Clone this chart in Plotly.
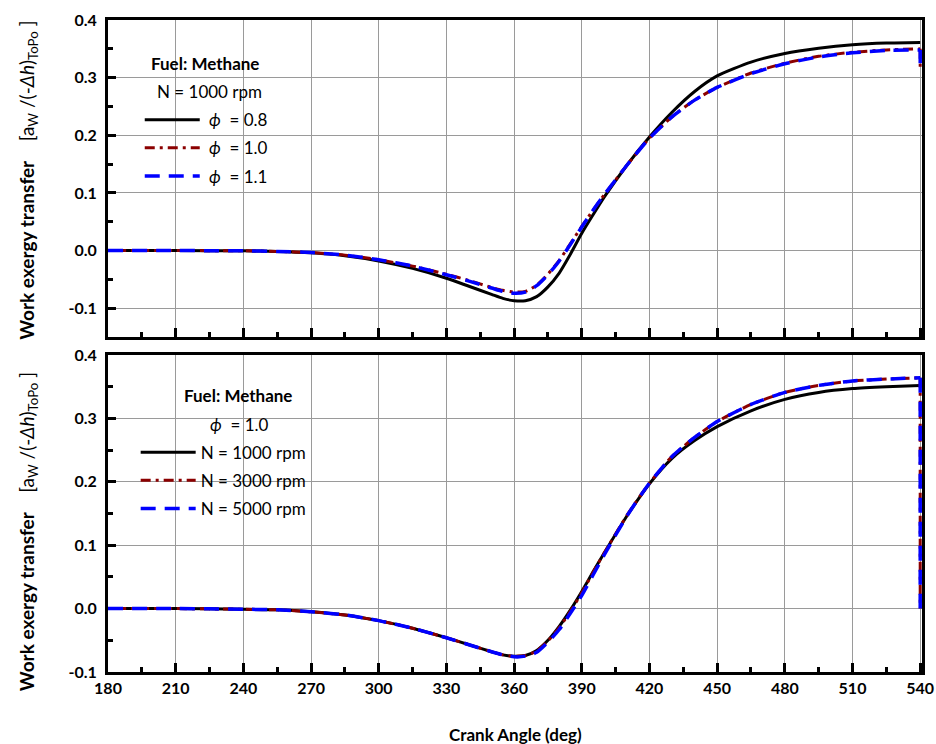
import plotly.graph_objects as go

# Crank angle grid (deg)
angle = [180, 210, 240, 255, 270, 285, 300, 315, 330, 340, 350, 355, 360, 365,
         370, 375, 380, 385, 390, 395, 400, 410, 420, 430, 440, 450, 465, 480,
         495, 510, 525, 540]

# Upper panel: methane, N = 1000 rpm, varying equivalence ratio
phi_08 = [0, 0, -0.0005, -0.0015, -0.004, -0.009, -0.018, -0.031, -0.048, -0.062,
          -0.076, -0.083, -0.087, -0.087, -0.080, -0.063, -0.039, -0.006, 0.030,
          0.062, 0.093, 0.148, 0.197, 0.240, 0.276, 0.303, 0.327, 0.342, 0.351,
          0.357, 0.360, 0.361]
phi_10 = [0, 0, -0.0005, -0.0015, -0.0035, -0.008, -0.016, -0.027, -0.041, -0.052,
          -0.064, -0.069, -0.072, -0.071, -0.060, -0.041, -0.017, 0.012, 0.042,
          0.070, 0.097, 0.148, 0.195, 0.232, 0.261, 0.283, 0.308, 0.325, 0.337,
          0.344, 0.348, 0.350]
phi_11 = [0, 0, -0.0005, -0.0015, -0.0035, -0.008, -0.016, -0.027, -0.042, -0.053,
          -0.065, -0.071, -0.074, -0.072, -0.061, -0.042, -0.018, 0.011, 0.041,
          0.070, 0.097, 0.148, 0.195, 0.232, 0.261, 0.283, 0.307, 0.324, 0.336,
          0.343, 0.347, 0.348]
# value reached at the end-of-cycle step (540 deg)
phi_10_end = 0.310
phi_11_end = 0.325

# Lower panel: methane, phi = 1.0, varying engine speed
n_1000 = [0, 0, -0.001, -0.002, -0.005, -0.010, -0.019, -0.031, -0.046, -0.057,
          -0.068, -0.073, -0.075, -0.074, -0.066, -0.050, -0.028, -0.002, 0.027,
          0.058, 0.088, 0.146, 0.197, 0.237, 0.265, 0.287, 0.312, 0.330, 0.341,
          0.347, 0.350, 0.352]
n_3000 = [0, 0, -0.001, -0.002, -0.005, -0.010, -0.019, -0.031, -0.046, -0.057,
          -0.068, -0.073, -0.075, -0.074, -0.067, -0.051, -0.030, -0.004, 0.025,
          0.057, 0.088, 0.147, 0.198, 0.240, 0.270, 0.295, 0.322, 0.341, 0.352,
          0.359, 0.362, 0.364]
n_5000 = [0, 0, -0.001, -0.002, -0.005, -0.010, -0.019, -0.031, -0.046, -0.057,
          -0.068, -0.073, -0.076, -0.075, -0.069, -0.053, -0.033, -0.007, 0.021,
          0.053, 0.085, 0.146, 0.198, 0.240, 0.270, 0.295, 0.322, 0.341, 0.352,
          0.359, 0.362, 0.364]
n_3000_end = 0.0
n_5000_end = 0.0

x_ticks = [180, 210, 240, 270, 300, 330, 360, 390, 420, 450, 480, 510, 540]
y_ticks = [-0.1, 0.0, 0.1, 0.2, 0.3, 0.4]
y_ticktext = ["-0.1", "0.0", "0.1", "0.2", "0.3", "0.4"]

FONT = "Lato"
BLACK = "#000000"
RED = "#8B0000"
BLUE = "#0000FF"
SOLID = "solid"
DASHDOT = "10px,5px,3px,5px"
DASH = "15px,9px"

fig = go.Figure()


def add(x, y, name, color, dash, width, xa, ya, legend, end=None):
    line = dict(color=color, dash=dash, width=width)
    fig.add_trace(go.Scatter(
        x=x, y=y, name=name, mode="lines", xaxis=xa, yaxis=ya,
        line=dict(**line, shape="spline", smoothing=0.6),
        legend=legend, legendgroup=name + legend,
    ))
    if end is not None:
        # straight step at the end of the cycle
        fig.add_trace(go.Scatter(
            x=[x[-1], x[-1]], y=[y[-1], end], mode="lines", xaxis=xa, yaxis=ya,
            line=line, showlegend=False, legend=legend,
            legendgroup=name + legend, hoverinfo="skip",
        ))


phi = "<i>ϕ</i>"
add(angle, phi_08, f" {phi}  = 0.8", BLACK, SOLID, 3, "x", "y", "legend")
add(angle, phi_10, f" {phi}  = 1.0", RED, DASHDOT, 3, "x", "y", "legend", phi_10_end)
add(angle, phi_11, f" {phi}  = 1.1", BLUE, DASH, 3.5, "x", "y", "legend", phi_11_end)

add(angle, n_1000, "N = 1000 rpm", BLACK, SOLID, 3, "x2", "y2", "legend2")
add(angle, n_3000, "N = 3000 rpm", RED, DASHDOT, 3, "x2", "y2", "legend2", n_3000_end)
add(angle, n_5000, "N = 5000 rpm", BLUE, DASH, 3.5, "x2", "y2", "legend2", n_5000_end)

GRID = "#9a9a9a"
tickfont = dict(family=FONT, size=16, color=BLACK, weight="bold")

# a hair of padding past 540 keeps the end-of-cycle step visible at the frame
xcommon = dict(range=[180, 540.8], tickvals=x_ticks, ticks="inside", ticklen=9,
               tickwidth=3, tickcolor=BLACK,
               minor=dict(dtick=15, tick0=180, ticks="inside", ticklen=5,
                          tickwidth=3, tickcolor=BLACK, showgrid=False),
               showgrid=True, gridcolor=GRID, gridwidth=1, showline=True,
               linewidth=3, linecolor=BLACK, mirror=True, zeroline=False,
               tickfont=tickfont, automargin=False, layer="below traces")
ycommon = dict(tickvals=y_ticks, ticktext=y_ticktext, ticks="inside", ticklen=8,
               tickwidth=3, tickcolor=BLACK,
               minor=dict(dtick=0.05, tick0=0, ticks="inside", ticklen=5,
                          tickwidth=3, tickcolor=BLACK, showgrid=False),
               showgrid=True, gridcolor=GRID, gridwidth=1, showline=True,
               linewidth=3, linecolor=BLACK, mirror=True, zeroline=False,
               tickfont=tickfont, ticklabelstandoff=5, automargin=False,
               layer="below traces")

top_dom = [0.5138, 1.0]
bot_dom = [0.0, 0.4862]

fig.update_layout(
    width=936, height=744,
    margin=dict(l=108, r=14, t=20, b=72),
    paper_bgcolor="white", plot_bgcolor="white",
    font=dict(family=FONT, color=BLACK),
    xaxis=dict(**xcommon, domain=[0, 1], anchor="y", showticklabels=False),
    yaxis=dict(**ycommon, domain=top_dom, anchor="x", range=[-0.15, 0.4]),
    xaxis2=dict(**xcommon, domain=[0, 1], anchor="y2"),
    yaxis2=dict(**ycommon, domain=bot_dom, anchor="x2", range=[-0.1, 0.4]),
    legend=dict(x=0.039, y=0.874, xanchor="left", yanchor="top",
                bgcolor="rgba(0,0,0,0)", font=dict(family=FONT, size=17),
                itemwidth=55, tracegroupgap=3),
    legend2=dict(x=0.034, y=0.364, xanchor="left", yanchor="top",
                 bgcolor="rgba(0,0,0,0)", font=dict(family=FONT, size=17),
                 itemwidth=55, tracegroupgap=3),
    showlegend=True,
)

ytitle = ("<b>Work exergy transfer</b>    [a<sub>W</sub> /(-<i>Δh</i>)"
          "<sub>ToPo</sub> ]")
ann = [
    dict(text=ytitle, x=-0.0983, y=0.755, textangle=-90, size=19),
    dict(text=ytitle, x=-0.0983, y=0.216, textangle=-90, size=19),
    dict(text="<b>Crank Angle (deg)</b>", x=0.5, y=-0.0966, size=17),
    dict(text="<b>Fuel: Methane</b>", x=0.119, y=0.934, size=17),
    dict(text="N = 1000 rpm", x=0.1253, y=0.8896, size=17),
    dict(text="<b>Fuel: Methane</b>", x=0.1597, y=0.4248, size=17),
    dict(text=f"{phi}  = 1.0", x=0.162, y=0.380, size=17),
]
for a in ann:
    size = a.pop("size")
    fig.add_annotation(xref="paper", yref="paper", showarrow=False,
                       xanchor="center", yanchor="middle",
                       font=dict(family=FONT, size=size, color=BLACK), **a)

fig.write_html("out.html")
